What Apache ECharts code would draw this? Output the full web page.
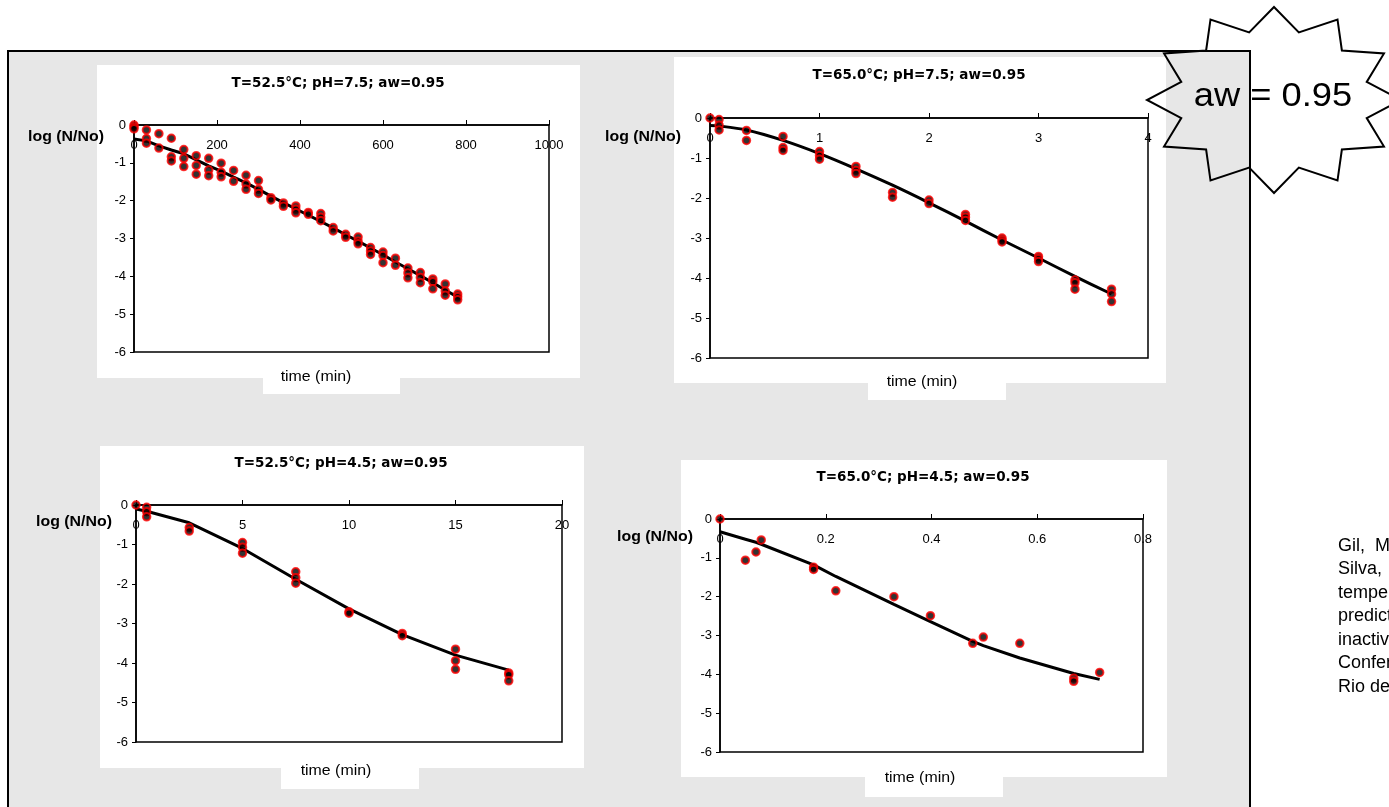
<!DOCTYPE html>
<html>
<head>
<meta charset="utf-8" />
<title>Inactivation curves - aw = 0.95</title>
<script src="https://cdn.jsdelivr.net/npm/echarts@6/dist/echarts.min.js"></script>
<style>
  body { margin: 0; background: #fff; }
  #grafico { width: 1389px; height: 807px; }
</style>
<script>
// painel 1: T=52.5°C; pH=7.5
const tempos1 = [0, 30, 60, 90, 120, 150, 180, 210, 240, 270, 300, 330, 360, 390, 420, 450, 480, 510, 540, 570, 600, 630, 660, 690, 720, 750, 780];
const obs1 = [
    [0, -0.05, -0.1], [-0.13, -0.36, -0.48], [-0.23, -0.61], [-0.35, -0.84, -0.95],
    [-0.65, -0.88, -1.1], [-0.81, -1.07, -1.3], [-0.88, -1.19, -1.34], [-1.01, -1.25, -1.37],
    [-1.2, -1.49], [-1.33, -1.56, -1.7], [-1.47, -1.7, -1.81], [-1.92, -1.98],
    [-2.06, -2.15], [-2.14, -2.23, -2.32], [-2.31, -2.36], [-2.34, -2.44, -2.53],
    [-2.71, -2.8], [-2.89, -2.97], [-2.96, -3.07, -3.14], [-3.24, -3.33, -3.42],
    [-3.36, -3.45, -3.64], [-3.52, -3.71], [-3.78, -3.91, -4.04], [-3.9, -4.03, -4.17],
    [-4.07, -4.14, -4.33], [-4.2, -4.39, -4.5], [-4.47, -4.54, -4.62]
];
const ajuste1 = [-0.37, -0.42, -0.55, -0.66, -0.76, -0.92, -1.08, -1.22, -1.38, -1.53, -1.7, -1.88, -2.05, -2.22, -2.38, -2.55, -2.72, -2.9, -3.07, -3.25, -3.43, -3.62, -3.8, -3.98, -4.17, -4.36, -4.55];

// painel 2: T=65.0°C; pH=7.5
const tempos2 = [0, 0.083, 0.333, 0.667, 1, 1.333, 1.667, 2, 2.333, 2.667, 3, 3.333, 3.667];
const obs2 = [
    [0], [-0.04, -0.18, -0.3], [-0.31, -0.56], [-0.46, -0.74, -0.81], [-0.84, -0.94, -1.03],
    [-1.21, -1.31, -1.39], [-1.86, -1.98], [-2.05, -2.14], [-2.41, -2.48, -2.56],
    [-3.0, -3.05, -3.1], [-3.46, -3.52, -3.59], [-4.05, -4.12, -4.28], [-4.28, -4.4, -4.59]
];
const ajuste2 = [-0.19, -0.2, -0.3, -0.56, -0.89, -1.27, -1.68, -2.12, -2.58, -3.05, -3.5, -3.96, -4.4];

// painel 3: T=52.5°C; pH=4.5
const tempos3 = [0, 0.5, 2.5, 5, 7.5, 10, 12.5, 15, 17.5];
const obs3 = [
    [0], [-0.06, -0.17, -0.3], [-0.57, -0.66], [-0.95, -1.07, -1.22], [-1.69, -1.84, -1.98],
    [-2.7, -2.74], [-3.25, -3.31], [-3.65, -3.94, -4.16], [-4.25, -4.3, -4.45]
];
const ajuste3 = [-0.1, -0.16, -0.45, -1.1, -1.88, -2.63, -3.28, -3.8, -4.18];

// painel 4: T=65.0°C; pH=4.5
const tempos4 = [0, 0.048, 0.068, 0.078, 0.177, 0.219, 0.329, 0.398, 0.478, 0.498, 0.567, 0.669, 0.718];
const obs4 = [
    [0], [-1.06], [-0.85], [-0.54], [-1.24, -1.3], [-1.85], [-2.0], [-2.49],
    [-3.2], [-3.04], [-3.2], [-4.1, -4.18], [-3.95]
];
const ajuste4 = [-0.33, -0.52, -0.6, -0.65, -1.18, -1.48, -2.2, -2.64, -3.15, -3.26, -3.58, -3.98, -4.13];

const titulos = [
    "T=52.5°C; pH=7.5; aw=0.95",
    "T=65.0°C; pH=7.5; aw=0.95",
    "T=52.5°C; pH=4.5; aw=0.95",
    "T=65.0°C; pH=4.5; aw=0.95"
];
const eixoX = [[0, 1000, 200], [0, 4, 1], [0, 20, 5], [0, 0.8, 0.2]];
const citacao = ["Gil,  M.", "Silva,", "temperature", "predictive", "inactivation", "Conference", "Rio de"];

// posições (px) de cada painel na página
const layout = [
    {grid: [134, 125, 415, 227], fundo: [97, 65, 483, 313], aba: [263, 378, 137, 16], titulo: [338, 83], logN: [28, 137], tempo: [316, 377]},
    {grid: [710, 118, 438, 240], fundo: [674, 57, 492, 326], aba: [868, 383, 138, 17], titulo: [919, 75], logN: [605, 137], tempo: [922, 382]},
    {grid: [136, 505, 426, 237], fundo: [100, 446, 484, 322], aba: [281, 768, 138, 21], titulo: [341, 463], logN: [36, 522], tempo: [336, 771]},
    {grid: [720, 519, 423, 233], fundo: [681, 460, 486, 317], aba: [865, 777, 138, 20], titulo: [923, 477], logN: [617, 537], tempo: [920, 778]}
];

function pares(tempos, obs) {
    const out = [];
    tempos.forEach((t, i) => obs[i].forEach((v) => out.push([t, v])));
    return out;
}

function criarGrafico() {
    const tempos = [tempos1, tempos2, tempos3, tempos4];
    const obs = [obs1, obs2, obs3, obs4];
    const ajustes = [ajuste1, ajuste2, ajuste3, ajuste4];

    const grids = [], xAxes = [], yAxes = [], series = [];
    const graficos = [
        {type: "rect", z: -20, shape: {x: 8, y: 51, width: 1242, height: 800},
         style: {fill: "#e7e7e7", stroke: "#000", lineWidth: 2}}
    ];

    layout.forEach((p, i) => {
        grids.push({left: p.grid[0], top: p.grid[1], width: p.grid[2], height: p.grid[3],
                    show: true, borderColor: "#000", borderWidth: 1.5, backgroundColor: "transparent"});
        xAxes.push({
            type: "value", gridIndex: i, position: "top",
            min: eixoX[i][0], max: eixoX[i][1], interval: eixoX[i][2],
            axisLine: {onZero: false, lineStyle: {color: "#000", width: 1.5}},
            axisTick: {show: true, inside: false, length: 5, lineStyle: {color: "#000"}},
            axisLabel: {inside: true, margin: 14, color: "#000", fontSize: 13,
                        fontFamily: "Liberation Sans", showMinLabel: true, showMaxLabel: true,
                        formatter: (v) => String(+v.toFixed(3))},
            splitLine: {show: false}
        });
        yAxes.push({
            type: "value", gridIndex: i, min: -6, max: 0, interval: 1,
            axisLine: {show: true, onZero: false, lineStyle: {color: "#000", width: 1.5}},
            axisTick: {show: true, length: 4, lineStyle: {color: "#000"}},
            axisLabel: {margin: 8, color: "#000", fontSize: 13, fontFamily: "Liberation Sans"},
            splitLine: {show: false}
        });
        series.push({
            type: "line", xAxisIndex: i, yAxisIndex: i, z: 2,
            data: tempos[i].map((t, k) => [t, ajustes[i][k]]),
            symbol: "none", smooth: i === 1 ? 0.3 : false,
            lineStyle: {color: "#000", width: 3}
        });
        series.push({
            type: "scatter", xAxisIndex: i, yAxisIndex: i, z: 3,
            data: pares(tempos[i], obs[i]),
            symbol: "circle", symbolSize: 7.5,
            itemStyle: {color: "#000", borderColor: "#ff0000", borderWidth: 2}
        });

        graficos.push({type: "rect", z: -10,
            shape: {x: p.fundo[0], y: p.fundo[1], width: p.fundo[2], height: p.fundo[3]},
            style: {fill: "#fff"}});
        graficos.push({type: "rect", z: -10,
            shape: {x: p.aba[0], y: p.aba[1], width: p.aba[2], height: p.aba[3]},
            style: {fill: "#fff"}});
        graficos.push({type: "text", z: 10, x: p.titulo[0], y: p.titulo[1],
            style: {text: titulos[i], align: "center", verticalAlign: "middle",
                    fontFamily: "DejaVu Sans", fontWeight: "bold", fontSize: 13.5, fill: "#000"}});
        graficos.push({type: "text", z: 10, x: p.logN[0], y: p.logN[1], scaleX: 1.06,
            style: {text: "log (N/No)", align: "left", verticalAlign: "middle",
                    fontFamily: "Liberation Sans", fontWeight: "bold", fontSize: 15, fill: "#000"}});
        graficos.push({type: "text", z: 10, x: p.tempo[0], y: p.tempo[1], scaleX: 1.06,
            style: {text: "time (min)", align: "center", verticalAlign: "middle",
                    fontFamily: "Liberation Sans", fontSize: 15, fill: "#000"}});
    });

    // estrela de 12 pontas
    const estrela = [];
    for (let k = 0; k < 24; k++) {
        const ang = -Math.PI / 2 + k * Math.PI / 12;
        const rx = k % 2 === 0 ? 127 : 96;
        const ry = k % 2 === 0 ? 93 : 70;
        estrela.push([1274 + rx * Math.cos(ang), 100 + ry * Math.sin(ang)]);
    }
    graficos.push({type: "polygon", z: 100, shape: {points: estrela},
        style: {fill: "none", stroke: "#000", lineWidth: 2}});
    graficos.push({type: "text", z: 101, x: 1273, y: 97, scaleX: 1.1,
        style: {text: "aw = 0.95", align: "center", verticalAlign: "middle",
                fontFamily: "Liberation Sans", fontSize: 33, fill: "#000"}});
    graficos.push({type: "text", z: 10, x: 1338, y: 534,
        style: {text: citacao.join("\n"), align: "left", verticalAlign: "top",
                lineHeight: 23.5, fontFamily: "Liberation Sans", fontSize: 18, fill: "#000"}});

    const myChart = echarts.init(document.getElementById("grafico"));
    myChart.setOption({
        animation: false,
        backgroundColor: "#fff",
        grid: grids,
        xAxis: xAxes,
        yAxis: yAxes,
        series: series,
        graphic: {elements: graficos}
    });
}

window.onload = criarGrafico;
</script>
</head>
<body>
<div id="grafico"></div>
</body>
</html>
